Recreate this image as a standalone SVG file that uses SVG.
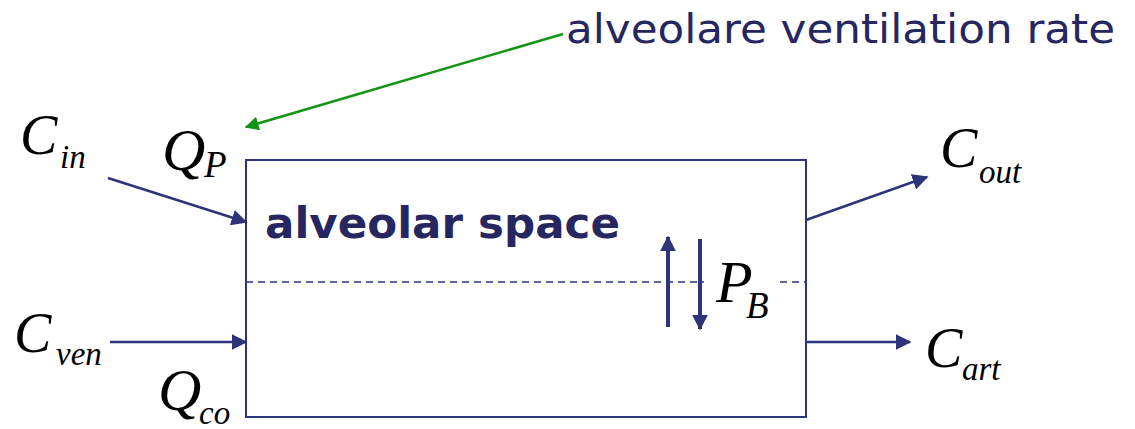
<svg xmlns="http://www.w3.org/2000/svg" width="1135" height="429" viewBox="0 0 1135 429">
<defs>
<style>
.ln{stroke:#2e3479;stroke-width:2.5;fill:none}
.thick{stroke-width:4}
.bx{stroke-width:2}
.m{font-family:"Liberation Serif",serif;font-style:italic;fill:#000}
.big{font-size:56px}
.q{font-size:60px}
.sub{font-size:33px}
.subc{font-size:37px}
.lbl{font-family:"DejaVu Sans Condensed","DejaVu Sans",sans-serif;fill:#262660}
</style>
<marker id="ah" viewBox="0 0 10 10" refX="9" refY="5" markerWidth="16" markerHeight="16" orient="auto" markerUnits="userSpaceOnUse">
<path d="M0,0 L10,5 L0,10 z" fill="#2e3479"/>
</marker>
<marker id="ag" viewBox="0 0 10 10" refX="9" refY="5" markerWidth="14" markerHeight="14" orient="auto" markerUnits="userSpaceOnUse">
<path d="M0,0 L10,5 L0,10 z" fill="#149414"/>
</marker>
</defs>
<rect width="1135" height="429" fill="#fff"/>
<g id="box">
<rect x="246" y="160" width="560" height="257" class="ln bx"/>
<line x1="246" y1="282" x2="704" y2="282" stroke="#2e3479" stroke-width="1.5" stroke-dasharray="7,5"/>
<line x1="780" y1="282" x2="805" y2="282" stroke="#2e3479" stroke-width="1.5" stroke-dasharray="7,5"/>
<text x="265" y="238" class="lbl" font-size="42" font-weight="bold" textLength="355" lengthAdjust="spacingAndGlyphs">alveolar space</text>
</g>
<g id="connectors">
<line x1="108" y1="178" x2="246" y2="222" class="ln" marker-end="url(#ah)"/>
<line x1="110" y1="342" x2="246" y2="342" class="ln" marker-end="url(#ah)"/>
<line x1="806" y1="220" x2="927" y2="177" class="ln" marker-end="url(#ah)"/>
<line x1="806" y1="342" x2="910" y2="342" class="ln" marker-end="url(#ah)"/>
<line x1="668" y1="327" x2="668" y2="237" class="ln thick" marker-end="url(#ah)"/>
<line x1="700" y1="239" x2="700" y2="329" class="ln thick" marker-end="url(#ah)"/>
<line x1="563" y1="34" x2="246" y2="127" stroke="#149414" stroke-width="2.5" marker-end="url(#ag)"/>
</g>
<g id="label-vent">
<text x="566" y="43" class="lbl" font-size="41" textLength="549" lengthAdjust="spacingAndGlyphs">alveolare ventilation rate</text>
</g>
<g id="c-in"><text x="20" y="154" class="m big">C</text><text x="60" y="168" class="m sub">in</text></g>
<g id="q-p"><text x="162" y="170" class="m q">Q</text><text x="204" y="177" class="m subc">P</text></g>
<g id="c-ven"><text x="14" y="352" class="m big">C</text><text x="56" y="365" class="m sub">ven</text></g>
<g id="q-co"><text x="158" y="410" class="m q">Q</text><text x="199" y="424" class="m sub">co</text></g>
<g id="c-out"><text x="940" y="167" class="m big">C</text><text x="979" y="183" class="m sub">out</text></g>
<g id="c-art"><text x="925" y="367" class="m big">C</text><text x="962" y="380" class="m sub">art</text></g>
<g id="p-b"><text x="716" y="302" class="m q">P</text><text x="746" y="318" class="m subc">B</text></g>
</svg>
